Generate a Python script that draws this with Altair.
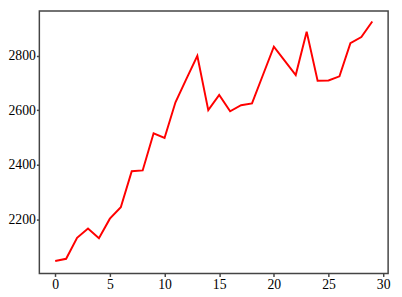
import altair as alt
import pandas as pd

x_vals = list(range(30))
y_vals = [2047, 2055, 2132, 2166, 2130, 2202, 2244, 2376, 2379, 2515,
          2498, 2629, 2715, 2799, 2600, 2656, 2596, 2618, 2625, 2729,
          2833, 2781, 2729, 2888, 2708, 2709, 2724, 2846, 2868, 2925]
x_ticks = [0, 5, 10, 15, 20, 25, 30]
y_ticks = [2200, 2400, 2600, 2800]

df = pd.DataFrame({"x": x_vals, "y": y_vals})

axis_common = dict(
    domain=False, grid=False, ticks=True, tickSize=3, tickWidth=1.5,
    tickColor="#444444", labelFont="Liberation Serif", labelFontSize=14,
    labelColor="#000000", labelPadding=1, title=None, format="d",
)

chart = alt.Chart(df).mark_line(color="#ff0000", strokeWidth=2).encode(
    x=alt.X("x:Q", scale=alt.Scale(domain=[-1.45, 30.45], nice=False, zero=False),
            axis=alt.Axis(values=x_ticks, **axis_common)),
    y=alt.Y("y:Q", scale=alt.Scale(domain=[2001, 2964], nice=False, zero=False),
            axis=alt.Axis(values=y_ticks, **axis_common)),
).properties(
    width=356, height=268,
    autosize=alt.AutoSizeParams(type="none"),
    padding={"left": 32, "top": 0, "right": 6, "bottom": 20},
    background="white",
).configure_view(
    stroke="#444444", strokeWidth=1.5
)

chart.save("out.html", embed_options={"renderer": "svg", "actions": False})
